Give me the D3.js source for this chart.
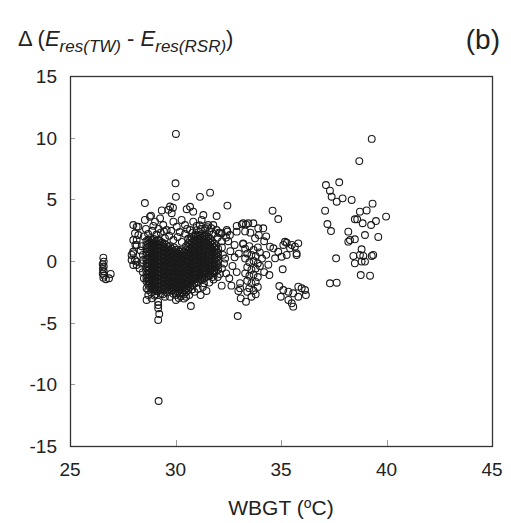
<!DOCTYPE html>
<html>
<head>
<meta charset="utf-8">
<script src="https://cdn.jsdelivr.net/npm/d3@7/dist/d3.min.js"></script>
<style>
  body { margin: 0; background: #fff; }
  svg { display: block; font-family: Arial, "Liberation Sans", sans-serif; }
</style>
</head>
<body>
<svg id="chart"></svg>
<script>
// Axis ticks
const xTicks = [25, 30, 35, 40, 45];
const yTicks = [-15, -10, -5, 0, 5, 10, 15];

// Dense daily columns of the main cluster: [WBGT, [delta values]]
const coreColumns = [
    [28.62, [1.62, 1.3, 1.02, 0.7, 0.45, 0.12, -0.2, -0.5, -0.78, -1.1, -1.38, -1.65]],
    [28.71, [1.7, 1.4, 1.1, 0.78, 0.48, 0.18, -0.15, -0.45, -0.75, -1.05, -1.35, -1.62, -1.92]],
    [28.8, [1.85, 1.52, 1.25, 0.92, 0.6, 0.33, 0.02, -0.3, -0.62, -0.9, -1.2, -1.52, -1.8, -2.15]],
    [28.89, [1.68, 1.38, 1.08, 0.75, 0.45, 0.15, -0.18, -0.48, -0.8, -1.1, -1.4, -1.72, -2.0, -2.25]],
    [28.98, [1.78, 1.45, 1.15, 0.85, 0.52, 0.2, -0.1, -0.42, -0.75, -1.05, -1.35, -1.68, -1.98, -2.3]],
    [29.07, [1.6, 1.3, 0.98, 0.68, 0.36, 0.05, -0.28, -0.6, -0.9, -1.22, -1.52, -1.85, -2.15, -2.45]],
    [29.17, [1.7, 1.38, 1.05, 0.75, 0.42, 0.1, -0.22, -0.55, -0.85, -1.15, -1.48, -1.78, -2.1, -2.42]],
    [29.26, [1.62, 1.32, 1.0, 0.7, 0.38, 0.08, -0.22, -0.55, -0.85, -1.15, -1.48, -1.8, -2.1, -2.4]],
    [29.36, [1.5, 1.2, 0.88, 0.55, 0.25, -0.05, -0.38, -0.7, -1.0, -1.32, -1.62, -1.95, -2.28]],
    [29.45, [1.42, 1.1, 0.8, 0.48, 0.18, -0.15, -0.45, -0.78, -1.08, -1.4, -1.7, -2.02, -2.32]],
    [29.55, [1.3, 1.0, 0.68, 0.38, 0.05, -0.25, -0.55, -0.88, -1.2, -1.5, -1.82, -2.15]],
    [29.64, [1.15, 0.85, 0.52, 0.22, -0.1, -0.4, -0.72, -1.05, -1.35, -1.65, -1.98, -2.3]],
    [29.74, [1.2, 0.88, 0.55, 0.25, -0.08, -0.4, -0.7, -1.02, -1.35, -1.65, -1.95, -2.25]],
    [29.83, [0.98, 0.65, 0.35, 0.02, -0.3, -0.62, -0.92, -1.25, -1.55, -1.85, -2.15, -2.42]],
    [29.93, [1.1, 0.78, 0.45, 0.15, -0.15, -0.48, -0.8, -1.1, -1.42, -1.72, -2.02, -2.32]],
    [30.02, [0.92, 0.62, 0.3, -0.02, -0.32, -0.65, -0.95, -1.28, -1.58, -1.9, -2.2, -2.5]],
    [30.12, [0.92, 0.6, 0.3, 0.0, -0.32, -0.62, -0.95, -1.25, -1.55, -1.88, -2.2, -2.5]],
    [30.21, [0.75, 0.45, 0.12, -0.18, -0.5, -0.8, -1.12, -1.42, -1.72, -2.05, -2.35, -2.62]],
    [30.31, [0.88, 0.55, 0.22, -0.1, -0.4, -0.72, -1.02, -1.35, -1.65, -1.95, -2.28, -2.6]],
    [30.4, [0.72, 0.4, 0.08, -0.25, -0.55, -0.88, -1.18, -1.5, -1.8, -2.12, -2.42, -2.7]],
    [30.5, [1.2, 0.88, 0.55, 0.25, -0.05, -0.38, -0.7, -1.0, -1.3, -1.62, -1.92, -2.25, -2.52]],
    [30.6, [1.45, 1.12, 0.8, 0.48, 0.18, -0.12, -0.45, -0.78, -1.08, -1.4, -1.7, -2.02, -2.35]],
    [30.69, [1.68, 1.35, 1.02, 0.72, 0.4, 0.1, -0.2, -0.52, -0.85, -1.15, -1.45, -1.78, -2.1]],
    [30.78, [1.85, 1.52, 1.2, 0.88, 0.55, 0.22, -0.08, -0.4, -0.72, -1.02, -1.35, -1.65, -1.98]],
    [30.88, [1.98, 1.65, 1.32, 1.0, 0.7, 0.38, 0.05, -0.25, -0.58, -0.9, -1.2, -1.5, -1.85]],
    [30.97, [2.05, 1.72, 1.4, 1.1, 0.78, 0.45, 0.12, -0.18, -0.5, -0.82, -1.12, -1.42, -1.78]],
    [31.07, [2.1, 1.78, 1.48, 1.15, 0.85, 0.52, 0.2, -0.1, -0.42, -0.72, -1.05, -1.35, -1.68]],
    [31.16, [2.0, 1.68, 1.35, 1.02, 0.7, 0.38, 0.05, -0.25, -0.58, -0.88, -1.2, -1.5]],
    [31.26, [2.2, 1.88, 1.55, 1.25, 0.92, 0.6, 0.3, -0.02, -0.35, -0.65, -0.98, -1.28, -1.5]],
    [31.35, [2.05, 1.72, 1.4, 1.08, 0.75, 0.42, 0.1, -0.2, -0.52, -0.82, -1.12, -1.4]],
    [31.45, [2.1, 1.8, 1.48, 1.15, 0.85, 0.52, 0.2, -0.12, -0.45, -0.75, -1.05, -1.3]],
    [31.55, [1.95, 1.62, 1.3, 1.0, 0.68, 0.38, 0.05, -0.25, -0.58, -0.88, -1.2]],
    [31.64, [1.82, 1.5, 1.2, 0.88, 0.55, 0.25, -0.08, -0.4, -0.7, -1.0, -1.15]],
    [31.73, [1.6, 1.3, 0.98, 0.68, 0.35, 0.05, -0.28, -0.6, -0.9]],
    [31.83, [1.4, 1.1, 0.78, 0.45, 0.15, -0.18, -0.5, -0.82, -1.0]],
    [31.92, [1.2, 0.9, 0.58, 0.25, -0.1, -0.45, -0.8]],
    [32.02, [1.0, 0.65, 0.32, 0.0, -0.35, -0.7]]
];

// Low WBGT days
const coolPoints = [
    [26.58, 0.27], [26.6, -0.05], [26.55, -0.25], [26.6, -0.45], [26.56, -0.65],
    [26.6, -0.85], [26.55, -1.02], [26.62, -1.18], [26.58, -1.35], [26.7, -1.48],
    [26.85, -1.4], [26.93, -1.05]
];

// Scattered points around the main cluster
const haloPoints = [
    [28.0, 2.92], [28.24, 2.78], [28.55, 3.33], [28.79, 3.59], [29.03, 3.19], [29.27, 3.46],
    [29.42, 2.92], [29.58, 2.51], [29.9, 3.19], [30.06, 2.78], [30.29, 3.33], [30.45, 2.92],
    [30.69, 2.51], [30.84, 3.19], [31.0, 2.84], [31.24, 3.33], [31.4, 2.65], [31.55, 2.92],
    [31.79, 2.92], [31.95, 2.51], [32.19, 2.25], [32.43, 2.51], [32.58, 2.11], [32.9, 2.38],
    [28.7, 2.2], [28.9, 2.45], [29.1, 2.15], [29.3, 2.3], [29.5, 1.85], [29.7, 2.05],
    [29.9, 1.7], [30.1, 1.95], [30.3, 1.55], [30.45, 2.2], [30.6, 1.8], [30.8, 2.3],
    [31.0, 2.5], [31.2, 2.6], [31.4, 2.5], [31.6, 2.4], [31.8, 2.2], [32.0, 1.9], [32.2, 1.6],
    [28.5, 2.0], [28.4, 1.2], [28.45, 0.5], [28.4, -0.2], [28.45, -0.9], [28.5, -1.4],
    [28.35, 0.85], [28.3, -0.6],
    [28.16, 2.78], [28.08, 2.25], [28.0, 1.7], [28.16, 1.3], [28.0, 0.62], [27.92, 0.49],
    [28.08, 0.08], [28.16, -0.32], [28.24, 2.11], [28.16, 1.7], [28.1, 1.3], [27.99, 0.75],
    [28.0, -0.32], [28.16, -0.05], [28.47, 0.08], [27.92, 0.08],
    [28.71, -1.4], [28.79, -1.8], [28.63, -2.2], [28.71, -2.76],
    [28.55, 4.7], [28.84, 3.68], [29.35, 4.1], [29.66, 4.15], [29.74, 4.42], [29.82, 3.87],
    [29.88, 4.32], [30.0, 6.3], [30.02, 5.2], [30.02, 10.3], [30.53, 4.2], [30.69, 4.4],
    [30.84, 4.0], [31.16, 5.2], [31.64, 5.54], [31.32, 3.73], [31.95, 3.65], [32.46, 4.49],
    [32.1, 2.27], [32.46, 2.38], [32.9, 2.84], [33.14, 2.97], [33.34, 2.97], [33.2, 1.38],
    [28.71, -2.35], [28.87, -3.03], [28.63, -3.16], [29.18, -3.3], [29.18, -3.57],
    [29.18, -3.84], [29.23, -4.3], [29.18, -4.78], [29.0, -2.8], [29.4, -2.7], [29.6, -2.55],
    [29.74, -2.9], [30.02, -3.16], [30.02, -2.75], [30.25, -2.85], [30.5, -2.9], [30.73, -3.65],
    [30.65, -2.75], [30.9, -2.5], [31.19, -2.76], [31.47, -2.43], [31.3, -2.1], [31.6, -1.75],
    [31.8, -1.5], [32.0, -1.3], [32.19, -2.0], [32.98, -2.43], [33.09, -3.03], [33.34, -3.3],
    [33.06, -1.8], [33.06, -2.2], [32.95, -4.46], [29.2, -11.35],
    [32.2, 1.1], [32.25, 0.5], [32.3, -0.2], [32.2, -0.6], [32.4, -1.0], [32.35, 0.2],
    [32.5, 1.6], [32.6, 0.8], [32.7, -0.4], [32.55, -1.4], [32.8, 0.3], [32.9, -0.9],
    [32.8, 1.3], [33.0, 0.6], [32.65, -2.0], [32.4, 1.9],
    [28.6, 2.6], [28.95, 2.85], [29.2, 2.6], [29.45, 2.4], [29.8, 2.45], [30.2, 2.35],
    [30.55, 2.6], [30.95, 2.15], [31.15, 2.9], [31.5, 2.75], [31.7, 2.65], [32.05, 2.3],
    [28.85, -2.55], [29.05, -2.7], [29.3, -2.65], [29.5, -2.9], [29.9, -2.65], [30.15, -3.0],
    [30.4, -3.05], [30.8, -2.3], [31.05, -2.25], [31.35, -1.8], [31.75, -1.3], [32.1, -1.05]
];

// Days around 33-36 degC
const midPoints = [
    [33.21, 3.06], [33.45, 3.06], [33.69, 3.06], [33.92, 2.65], [34.16, 2.65], [33.77, 1.84],
    [33.21, 1.43], [33.3, 1.0], [33.5, 1.2], [33.7, 0.9], [33.9, 1.1], [33.4, 0.6], [33.6, 0.5],
    [33.8, 0.4], [34.0, 0.7], [33.3, 0.2], [33.5, -0.1], [33.7, 0.0], [33.9, -0.2], [33.4, -0.5],
    [33.6, -0.7], [33.8, -0.6], [34.0, -0.4], [33.3, -1.0], [33.5, -1.2], [33.7, -1.1],
    [33.9, -1.3], [33.4, -1.6], [33.6, -1.8], [33.8, -1.7], [33.5, -2.2], [33.7, -2.4],
    [33.9, -2.1], [33.6, -2.9], [33.8, -2.7], [33.4, -2.5], [34.1, 0.2], [34.2, -0.9],
    [34.2, 1.6], [33.95, 2.1], [33.55, 2.3], [33.3, 2.4], [34.3, 2.0],
    [34.48, 1.16], [34.64, 1.03], [34.87, 0.75], [35.11, 1.3], [35.27, 1.48], [35.51, 1.3],
    [35.82, 1.43], [35.74, 0.62], [34.72, 0.22], [35.03, 0.35], [35.27, 0.49], [35.08, -0.67],
    [34.45, -1.14], [34.6, 4.08], [34.87, 3.4], [34.3, 0.5], [34.4, -0.3], [35.19, 1.56],
    [35.43, 1.03], [35.66, 1.16], [35.74, 0.49],
    [34.92, -2.03], [35.11, -2.35], [35.35, -2.49], [35.58, -2.62], [35.82, -2.08],
    [35.98, -2.21], [36.14, -2.35], [36.18, -2.76], [34.99, -2.9], [35.35, -3.16],
    [35.51, -3.43], [35.58, -3.7], [35.82, -2.9]
];

// Hot days, 37-40 degC
const hotPoints = [
    [37.13, 6.16], [37.76, 6.38], [37.32, 5.7], [37.4, 5.21], [37.64, 4.81], [37.92, 5.08],
    [37.09, 4.08], [38.35, 4.95], [38.71, 8.1], [39.3, 9.9], [39.34, 4.65], [38.74, 4.0],
    [39.06, 4.1], [39.98, 3.6], [38.5, 3.38], [38.61, 3.38], [38.87, 3.06], [39.27, 2.92],
    [39.5, 3.24], [37.2, 3.0], [37.37, 2.43], [38.19, 2.38], [38.27, 1.7], [38.5, 1.76],
    [38.98, 2.11], [39.61, 1.95], [37.61, 0.22], [38.82, 0.95], [38.74, 0.49], [38.43, 0.41],
    [38.9, 0.41], [39.37, 0.49], [39.3, 0.41], [38.82, -0.05], [38.5, -0.19], [38.98, -0.05],
    [38.78, -1.14], [39.22, -1.19], [37.32, -1.81], [37.64, -1.76], [38.19, 1.57]
];

const width = 511, height = 523;
const margin = {top: 76, right: 19, bottom: 77, left: 70};
const innerW = width - margin.left - margin.right;
const innerH = height - margin.top - margin.bottom;

const svg = d3.select("#chart")
    .attr("width", width)
    .attr("height", height);

const x = d3.scaleLinear().domain([25, 45]).range([margin.left, margin.left + innerW]);
const y = d3.scaleLinear().domain([-15, 15]).range([margin.top + innerH, margin.top]);

// Collect every point
const points = [];
coreColumns.forEach(([w, ds]) => ds.forEach(d => points.push([w, d])));
[coolPoints, haloPoints, midPoints, hotPoints].forEach(g => g.forEach(p => points.push(p)));

// Inner tick marks
svg.append("g")
    .attr("stroke", "#9a9a9a")
    .attr("stroke-width", 1)
    .selectAll("line")
    .data(yTicks.slice(1, -1))
    .join("line")
    .attr("x1", margin.left)
    .attr("x2", margin.left + 5)
    .attr("y1", d => Math.round(y(d)) + 0.5)
    .attr("y2", d => Math.round(y(d)) + 0.5);

svg.append("g")
    .attr("stroke", "#9a9a9a")
    .attr("stroke-width", 1)
    .selectAll("line")
    .data(xTicks.slice(1, -1))
    .join("line")
    .attr("x1", d => Math.round(x(d)) + 0.5)
    .attr("x2", d => Math.round(x(d)) + 0.5)
    .attr("y1", margin.top + innerH)
    .attr("y2", margin.top + innerH - 6);

// Points
svg.append("g")
    .attr("fill", "none")
    .attr("stroke", "#1a1a1a")
    .attr("stroke-width", 1.1)
    .selectAll("circle")
    .data(points)
    .join("circle")
    .attr("cx", d => x(d[0]))
    .attr("cy", d => y(d[1]))
    .attr("r", 3.4);

// Frame
svg.append("rect")
    .attr("x", margin.left + 0.5)
    .attr("y", margin.top + 0.5)
    .attr("width", innerW)
    .attr("height", innerH)
    .attr("fill", "none")
    .attr("stroke", "#333")
    .attr("stroke-width", 1.3);

// Tick labels
svg.append("g")
    .selectAll("text")
    .data(yTicks)
    .join("text")
    .attr("x", margin.left - 13)
    .attr("y", d => y(d))
    .attr("dy", "0.36em")
    .attr("text-anchor", "end")
    .attr("font-size", 19)
    .attr("fill", "#222")
    .text(d => d);

svg.append("g")
    .selectAll("text")
    .data(xTicks)
    .join("text")
    .attr("x", d => x(d))
    .attr("y", margin.top + innerH + 30)
    .attr("text-anchor", "middle")
    .attr("font-size", 19)
    .attr("fill", "#222")
    .text(d => d);

// Axis title
const xt = svg.append("text")
    .attr("x", margin.left + innerW / 2)
    .attr("y", 515)
    .attr("text-anchor", "middle")
    .attr("font-size", 21)
    .attr("fill", "#222");
xt.append("tspan").text("WBGT (");
xt.append("tspan").attr("font-size", 14).attr("dy", -7).text("o");
xt.append("tspan").attr("dy", 7).text("C)");

// Y title with subscripts
const yt = svg.append("text")
    .attr("x", 18)
    .attr("y", 46)
    .attr("font-size", 22)
    .attr("fill", "#222");
yt.append("tspan").text("\u0394 (");
yt.append("tspan").attr("font-style", "italic").text("E");
yt.append("tspan").attr("font-style", "italic").attr("font-size", 17).attr("dy", 6).text("res(TW)");
yt.append("tspan").attr("dy", -6).text(" - ");
yt.append("tspan").attr("font-style", "italic").text("E");
yt.append("tspan").attr("font-style", "italic").attr("font-size", 17).attr("dy", 6).text("res(RSR)");
yt.append("tspan").attr("dy", -6).text(")");

// Panel label
svg.append("text")
    .attr("x", 500)
    .attr("y", 49)
    .attr("text-anchor", "end")
    .attr("font-size", 28)
    .attr("fill", "#222")
    .text("(b)");
</script>
</body>
</html>
